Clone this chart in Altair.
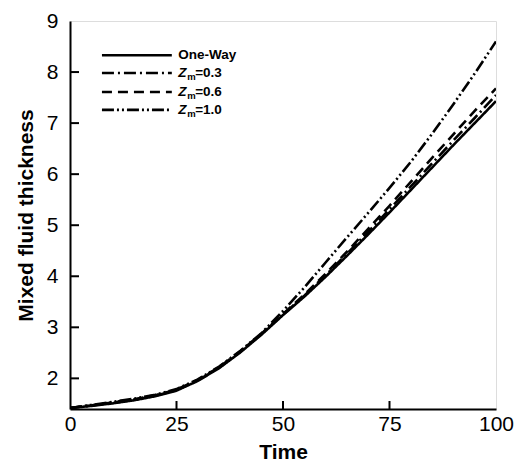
import altair as alt
import pandas as pd

time = [0, 5, 10, 15, 20, 25, 30, 35, 40, 45, 50, 55, 60, 65, 70, 75, 80, 85, 90, 95, 100]
one_way = [1.42, 1.46, 1.51, 1.57, 1.65, 1.76, 1.95, 2.20, 2.51, 2.86, 3.24, 3.60, 3.99, 4.40, 4.82, 5.25, 5.69, 6.13, 6.57, 7.00, 7.43]
zm_03 = [1.42, 1.47, 1.52, 1.58, 1.66, 1.77, 1.96, 2.21, 2.52, 2.87, 3.25, 3.62, 4.02, 4.44, 4.87, 5.31, 5.76, 6.21, 6.66, 7.10, 7.55]
zm_06 = [1.42, 1.47, 1.53, 1.59, 1.67, 1.78, 1.97, 2.22, 2.53, 2.88, 3.26, 3.64, 4.05, 4.48, 4.93, 5.38, 5.85, 6.32, 6.78, 7.24, 7.68]
zm_10 = [1.42, 1.48, 1.54, 1.60, 1.68, 1.79, 1.98, 2.23, 2.54, 2.89, 3.32, 3.78, 4.27, 4.76, 5.24, 5.73, 6.24, 6.79, 7.37, 7.97, 8.60]

series_names = ["One-Way", "Zm=0.3", "Zm=0.6", "Zm=1.0"]
series_vals = [one_way, zm_03, zm_06, zm_10]
dashes = [[1, 0], [12, 4, 2, 4], [10, 6], [12, 3, 2, 3, 2, 3]]

rows = []
for name, vals in zip(series_names, series_vals):
    for t, v in zip(time, vals):
        rows.append({"Time": t, "value": v, "series": name})
df = pd.DataFrame(rows)

W, H = 426, 388
FONT = "Liberation Sans"

xscale = alt.Scale(domain=[0, 100], nice=False, zero=False)
yscale = alt.Scale(domain=[1.4, 9], nice=False, zero=False)

lines = alt.Chart(df).mark_line(strokeWidth=2.6, color="black", clip=True).encode(
    x=alt.X("Time:Q", scale=xscale,
            axis=alt.Axis(title="Time", values=[0, 25, 50, 75, 100], ticks=False,
                          labelFontSize=21, labelFont=FONT, labelColor="black",
                          labelPadding=4, titleFont=FONT, titleFontSize=21,
                          titleFontWeight="bold", titleColor="black", titlePadding=7,
                          domainColor="black", domainWidth=2, grid=False,
                          labelFlush=False)),
    y=alt.Y("value:Q", scale=yscale,
            axis=alt.Axis(title="Mixed fluid thickness", values=[2, 3, 4, 5, 6, 7, 8, 9],
                          ticks=False, labelFontSize=21, labelFont=FONT,
                          labelColor="black", labelPadding=12, titleFont=FONT,
                          titleFontSize=21, titleFontWeight="bold", titleColor="black",
                          titlePadding=10, domainColor="black", domainWidth=2, grid=False,
                          labelFlush=False)),
    strokeDash=alt.StrokeDash("series:N", scale=alt.Scale(domain=series_names, range=dashes),
                              legend=None),
    detail="series:N",
)

# inward tick marks
xt = pd.DataFrame({"Time": [25, 50, 75]})
xticks = alt.Chart(xt).mark_rule(color="black", strokeWidth=2).encode(
    x=alt.X("Time:Q", scale=xscale), y=alt.value(H), y2=alt.value(H - 8))
yt = pd.DataFrame({"value": [2, 3, 4, 5, 6, 7, 8]})
yticks = alt.Chart(yt).mark_rule(color="black", strokeWidth=2).encode(
    y=alt.Y("value:Q", scale=yscale), x=alt.value(0), x2=alt.value(9))

# legend
leg_y = [8.33, 7.98, 7.61, 7.26]
leg = pd.DataFrame({"series": series_names, "x1": [7.5] * 4, "x2": [23.9] * 4, "y": leg_y})
leg_lines = alt.Chart(leg).mark_rule(strokeWidth=2.6, color="black").encode(
    x=alt.X("x1:Q", scale=xscale), x2="x2:Q", y=alt.Y("y:Q", scale=yscale),
    strokeDash=alt.StrokeDash("series:N", scale=alt.Scale(domain=series_names, range=dashes),
                              legend=None),
)
lx = 25.4
t1 = alt.Chart(pd.DataFrame({"x": [lx], "y": [leg_y[0]], "t": ["One-Way"]})).mark_text(
    align="left", baseline="middle", font=FONT, fontWeight="bold", fontSize=13.5, color="black"
).encode(x=alt.X("x:Q", scale=xscale), y=alt.Y("y:Q", scale=yscale), text="t:N")
zdf = pd.DataFrame({"x": [lx] * 3, "y": leg_y[1:], "rest": ["=0.3", "=0.6", "=1.0"]})
tz = alt.Chart(zdf).mark_text(
    align="left", baseline="middle", font=FONT, fontWeight="bold", fontStyle="italic",
    fontSize=13.5, color="black"
).encode(x=alt.X("x:Q", scale=xscale), y=alt.Y("y:Q", scale=yscale), text=alt.value("Z"))
tm = alt.Chart(zdf).mark_text(
    align="left", baseline="middle", font=FONT, fontWeight="bold",
    fontSize=9.5, color="black", dx=9, dy=4
).encode(x=alt.X("x:Q", scale=xscale), y=alt.Y("y:Q", scale=yscale), text=alt.value("m"))
tr = alt.Chart(zdf).mark_text(
    align="left", baseline="middle", font=FONT, fontWeight="bold",
    fontSize=13.5, color="black", dx=17
).encode(x=alt.X("x:Q", scale=xscale), y=alt.Y("y:Q", scale=yscale), text="rest:N")

chart = alt.layer(lines, xticks, yticks, leg_lines, t1, tz, tm, tr).properties(
    width=W, height=H,
    autosize=alt.AutoSizeParams(type="none"),
    padding={"left": 62, "top": 13, "right": 18, "bottom": 57},
).configure_view(stroke="black", strokeWidth=2).configure(background="white")

chart.save("out.html", embed_options={"renderer": "svg", "actions": False})
